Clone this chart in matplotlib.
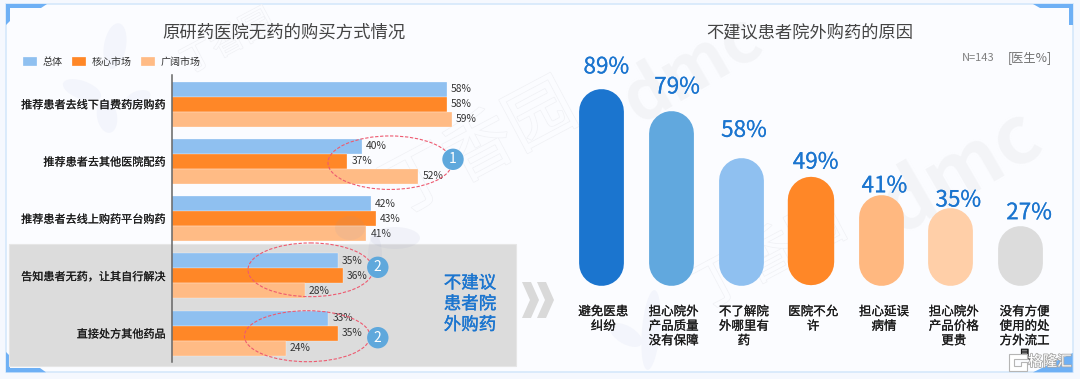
import matplotlib
matplotlib.use('Agg')
import matplotlib.pyplot as plt
import matplotlib.patheffects as pe
from matplotlib.patches import Ellipse, Circle, Polygon, Rectangle

plt.rcParams['font.family'] = ['Noto Sans CJK SC', 'DejaVu Sans']

W, H = 1080, 379

# left chart
channels = ['推荐患者去线下自费药房购药', '推荐患者去其他医院配药', '推荐患者去线上购药平台购药',
            '告知患者无药，让其自行解决', '直接处方其他药品']
series_names = ['总体', '核心市场', '广阔市场']
total = [58, 40, 42, 35, 33]
core = [58, 37, 43, 36, 35]
broad = [59, 52, 41, 28, 24]
series_colors = ['#8FC0F0', '#FF8727', '#FFBB85']

# right chart
reasons = ['避免医患\n纠纷', '担心院外\n产品质量\n没有保障', '不了解院\n外哪里有\n药', '医院不允\n许',
           '担心延误\n病情', '担心院外\n产品价格\n更贵', '没有方便\n使用的处\n方外流工\n具']
reason_vals = [89, 79, 58, 49, 41, 35, 27]
reason_colors = ['#1B75CF', '#61A8DE', '#8FC0F0', '#FF8727', '#FFB880', '#FFCFA8', '#DCDCDC']
pill_w = [44.8, 44.8, 44.8, 46.4, 44.8, 44.8, 44.8]
label_up = [22, 24, 27, 15, 9, 8, 13]
label_dx = [5, 6, 3, 5, 4, 8, 9]
reason_dx = [2, 2.5, 3, 2.5, 3.5, 3.5, 4.5]


def px_axes(fig, left, top, right, bottom, **kw):
    return fig.add_axes([left / W, 1 - bottom / H, (right - left) / W, (bottom - top) / H], **kw)


def heavy(color, lw=0.3):
    return [pe.withStroke(linewidth=lw, foreground=color)]


fig = plt.figure(figsize=(W / 100, H / 100), dpi=100, facecolor='#F5F8FE')

# background, drawn in pixel coordinates
bg = fig.add_axes([0, 0, 1, 1], zorder=0)
bg.set_xlim(0, W)
bg.set_ylim(H, 0)
bg.axis('off')
bg.add_patch(Rectangle((6, 4), 1066.7, 368.3, fc='#FBFCFF', ec='#D5E8FB', lw=1.2))

mark = '#F3F4F7'
outline = [pe.withStroke(linewidth=1.0, foreground='#F0F1F5')]
for wx, wy, wsize in [(228, 42, 24), (480, 150, 50), (768, 258, 40)]:
    bg.text(wx, wy, '丁香园', fontsize=wsize, color='#FBFCFF', rotation=28, ha='center', va='center',
            path_effects=outline)
bg.text(692, 70, 'dmc', fontsize=50, color=mark, rotation=30, ha='center', va='center', weight='bold')
bg.text(960, 172, 'dmc', fontsize=58, color=mark, rotation=30, ha='center', va='center', weight='bold')

petal = '#F3F5FC'
for ex, ey, ew, eh, ang in [(115, 46, 22, 46, 10), (82, 90, 40, 18, 20), (107, 116, 20, 34, -10),
                            (138, 98, 26, 14, -20), (651, 330, 18, 80, 5), (626, 335, 36, 18, 30)]:
    bg.add_patch(Ellipse((ex, ey), ew, eh, angle=ang, fc=petal, ec='none'))

corner = '#6EB0F5'
bg.add_patch(Polygon([(6, 4), (47, 4), (41, 8), (10, 8), (10, 21), (6, 25)], fc=corner, ec='none'))
bg.add_patch(Polygon([(1033, 4), (1072.7, 4), (1072.7, 25), (1069, 25), (1069, 8), (1040, 8)], fc=corner, ec='none'))
bg.add_patch(Polygon([(6, 352), (10, 356), (10, 368), (40, 368), (46, 372.3), (6, 372.3)], fc=corner, ec='none'))
bg.add_patch(Polygon([(1033, 372.3), (1072.7, 353), (1072.7, 372.3)], fc=corner, ec='none'))

bg.add_patch(Rectangle((9, 244), 507, 121.7, fc='#DCDCDC', ec='#E6E6E6', lw=0.8))
for x0 in (522, 537):
    bg.add_patch(Polygon([(x0, 282), (x0 + 9, 282), (x0 + 17, 300), (x0 + 9, 318), (x0, 318), (x0 + 8, 300)],
                         fc='#D9D9D9', ec='none'))

bg.text(284, 32.5, '原研药医院无药的购买方式情况', fontsize=12.5, color='#444444', ha='center', va='center')
bg.text(810, 32.5, '不建议患者院外购药的原因', fontsize=12.4, color='#444444', ha='center', va='center')
bg.text(978, 58, 'N=143', fontsize=8, color='#808080', ha='center', va='center')
bg.text(1030, 58, '[医生%]', fontsize=8.8, color='#707070', ha='center', va='center')

# grouped bars
ax = px_axes(fig, 172, 75, 503.8, 361.7, zorder=1)
ax.patch.set_visible(False)
ax.set_xlim(0, 70)
ax.set_ylim(4.5, -0.507)
bar_h = 0.262
for j, (vals, name) in enumerate(zip([total, core, broad], series_names)):
    y = [i + (j - 1) * bar_h for i in range(len(channels))]
    ax.barh(y, vals, height=bar_h, color=series_colors[j], label=name, edgecolor='white', linewidth=0.2)
    for yi, v in zip(y, vals):
        ax.annotate(f'{v}%', (v, yi), xytext=(4, 0), textcoords='offset pixels',
                    fontsize=7.4, color='#333333', va='center', annotation_clip=False)
ax.set_yticks(range(len(channels)))
ax.set_yticklabels(channels, fontsize=8, color='#1A1A1A', path_effects=heavy('#1A1A1A', 0.1))
ax.tick_params(axis='y', length=0, pad=4.5)
ax.set_xticks([])
for s in ['top', 'right', 'bottom']:
    ax.spines[s].set_visible(False)
ax.spines['left'].set_color('#666666')
ax.spines['left'].set_linewidth(1.1)
ax.legend(loc='center left', bbox_to_anchor=(23.4 / W, 1 - 62 / H), bbox_transform=fig.transFigure,
          ncol=3, frameon=False, fontsize=7.2, labelcolor='#333333', handlelength=1.38, handleheight=1.0,
          columnspacing=0.96, handletextpad=0.55, borderpad=0, borderaxespad=0)

# pills
ax2 = px_axes(fig, 566.4, 64.6, 1055, 285.3, zorder=1)
ax2.patch.set_visible(False)
ax2.set_xlim(-0.5, 6.5)
ax2.set_ylim(0, 100)
ax2.axis('off')
unit_px = 2.207
for i, (v, c, wd) in enumerate(zip(reason_vals, reason_colors, pill_w)):
    r = wd / 2 / unit_px
    ax2.plot([i, i], [r, v - r], color=c, lw=wd * 0.72, solid_capstyle='round', clip_on=False)
    ax2.annotate(f'{v}%', (i, v), xytext=(label_dx[i], label_up[i]), textcoords='offset pixels',
                 fontsize=16.2, color='#1B75CF', ha='center', va='center', annotation_clip=False,
                 path_effects=heavy('#1B75CF', 0.1))
    ax2.annotate(reasons[i], (i, 0), xytext=(reason_dx[i], -20), textcoords='offset pixels',
                 fontsize=9, color='#1A1A1A', ha='center', va='top', linespacing=1.15, annotation_clip=False,
                 path_effects=heavy('#1A1A1A', 0.15))

# callouts on top of the bars
top = fig.add_axes([0, 0, 1, 1], zorder=2)
top.set_xlim(0, W)
top.set_ylim(H, 0)
top.axis('off')
for ex, ey, ew, eh in [(350, 228, 30, 24), (395, 238, 50, 22), (375, 255, 14, 40)]:
    top.add_patch(Ellipse((ex, ey), ew, eh, fc='#9098C0', ec='none', alpha=0.09))
rings = [(390, 162.7, 124, 53.5, 453, 159.3, '1'),
         (310.5, 269.8, 125, 53.7, 377.8, 267.3, '2'),
         (307.2, 336.2, 125.5, 51, 377.8, 337.7, '2')]
for cx, cy, ew, eh, bx, by, num in rings:
    top.add_patch(Ellipse((cx, cy), ew, eh, fc='none', ec='#EE5A70', lw=0.8, ls=(0, (3, 1.5))))
    top.add_patch(Circle((bx, by), 10.7, fc='#5FA8DC', ec='none'))
    top.text(bx, by, num, fontsize=10, color='white', ha='center', va='center')

top.text(470, 304, '不建议\n患者院\n外购药', fontsize=12.6, color='#1B75CF', ha='center', va='center',
         linespacing=1.2, path_effects=heavy('#1B75CF', 0.25))

# logo in the corner
top.add_patch(Polygon([(1009, 354), (1027, 354), (1027, 359), (1014, 359), (1014, 366), (1021, 366),
                       (1021, 362), (1027, 362), (1027, 371), (1009, 371)],
                      fc='white', ec='#B5B5B5', lw=0.8))
top.text(1050, 362, '格隆汇', fontsize=10.5, color='white', ha='center', va='center',
         path_effects=[pe.withStroke(linewidth=1.2, foreground='#A8A8A8')])

fig.savefig('out.png', dpi=100, facecolor=fig.get_facecolor())
